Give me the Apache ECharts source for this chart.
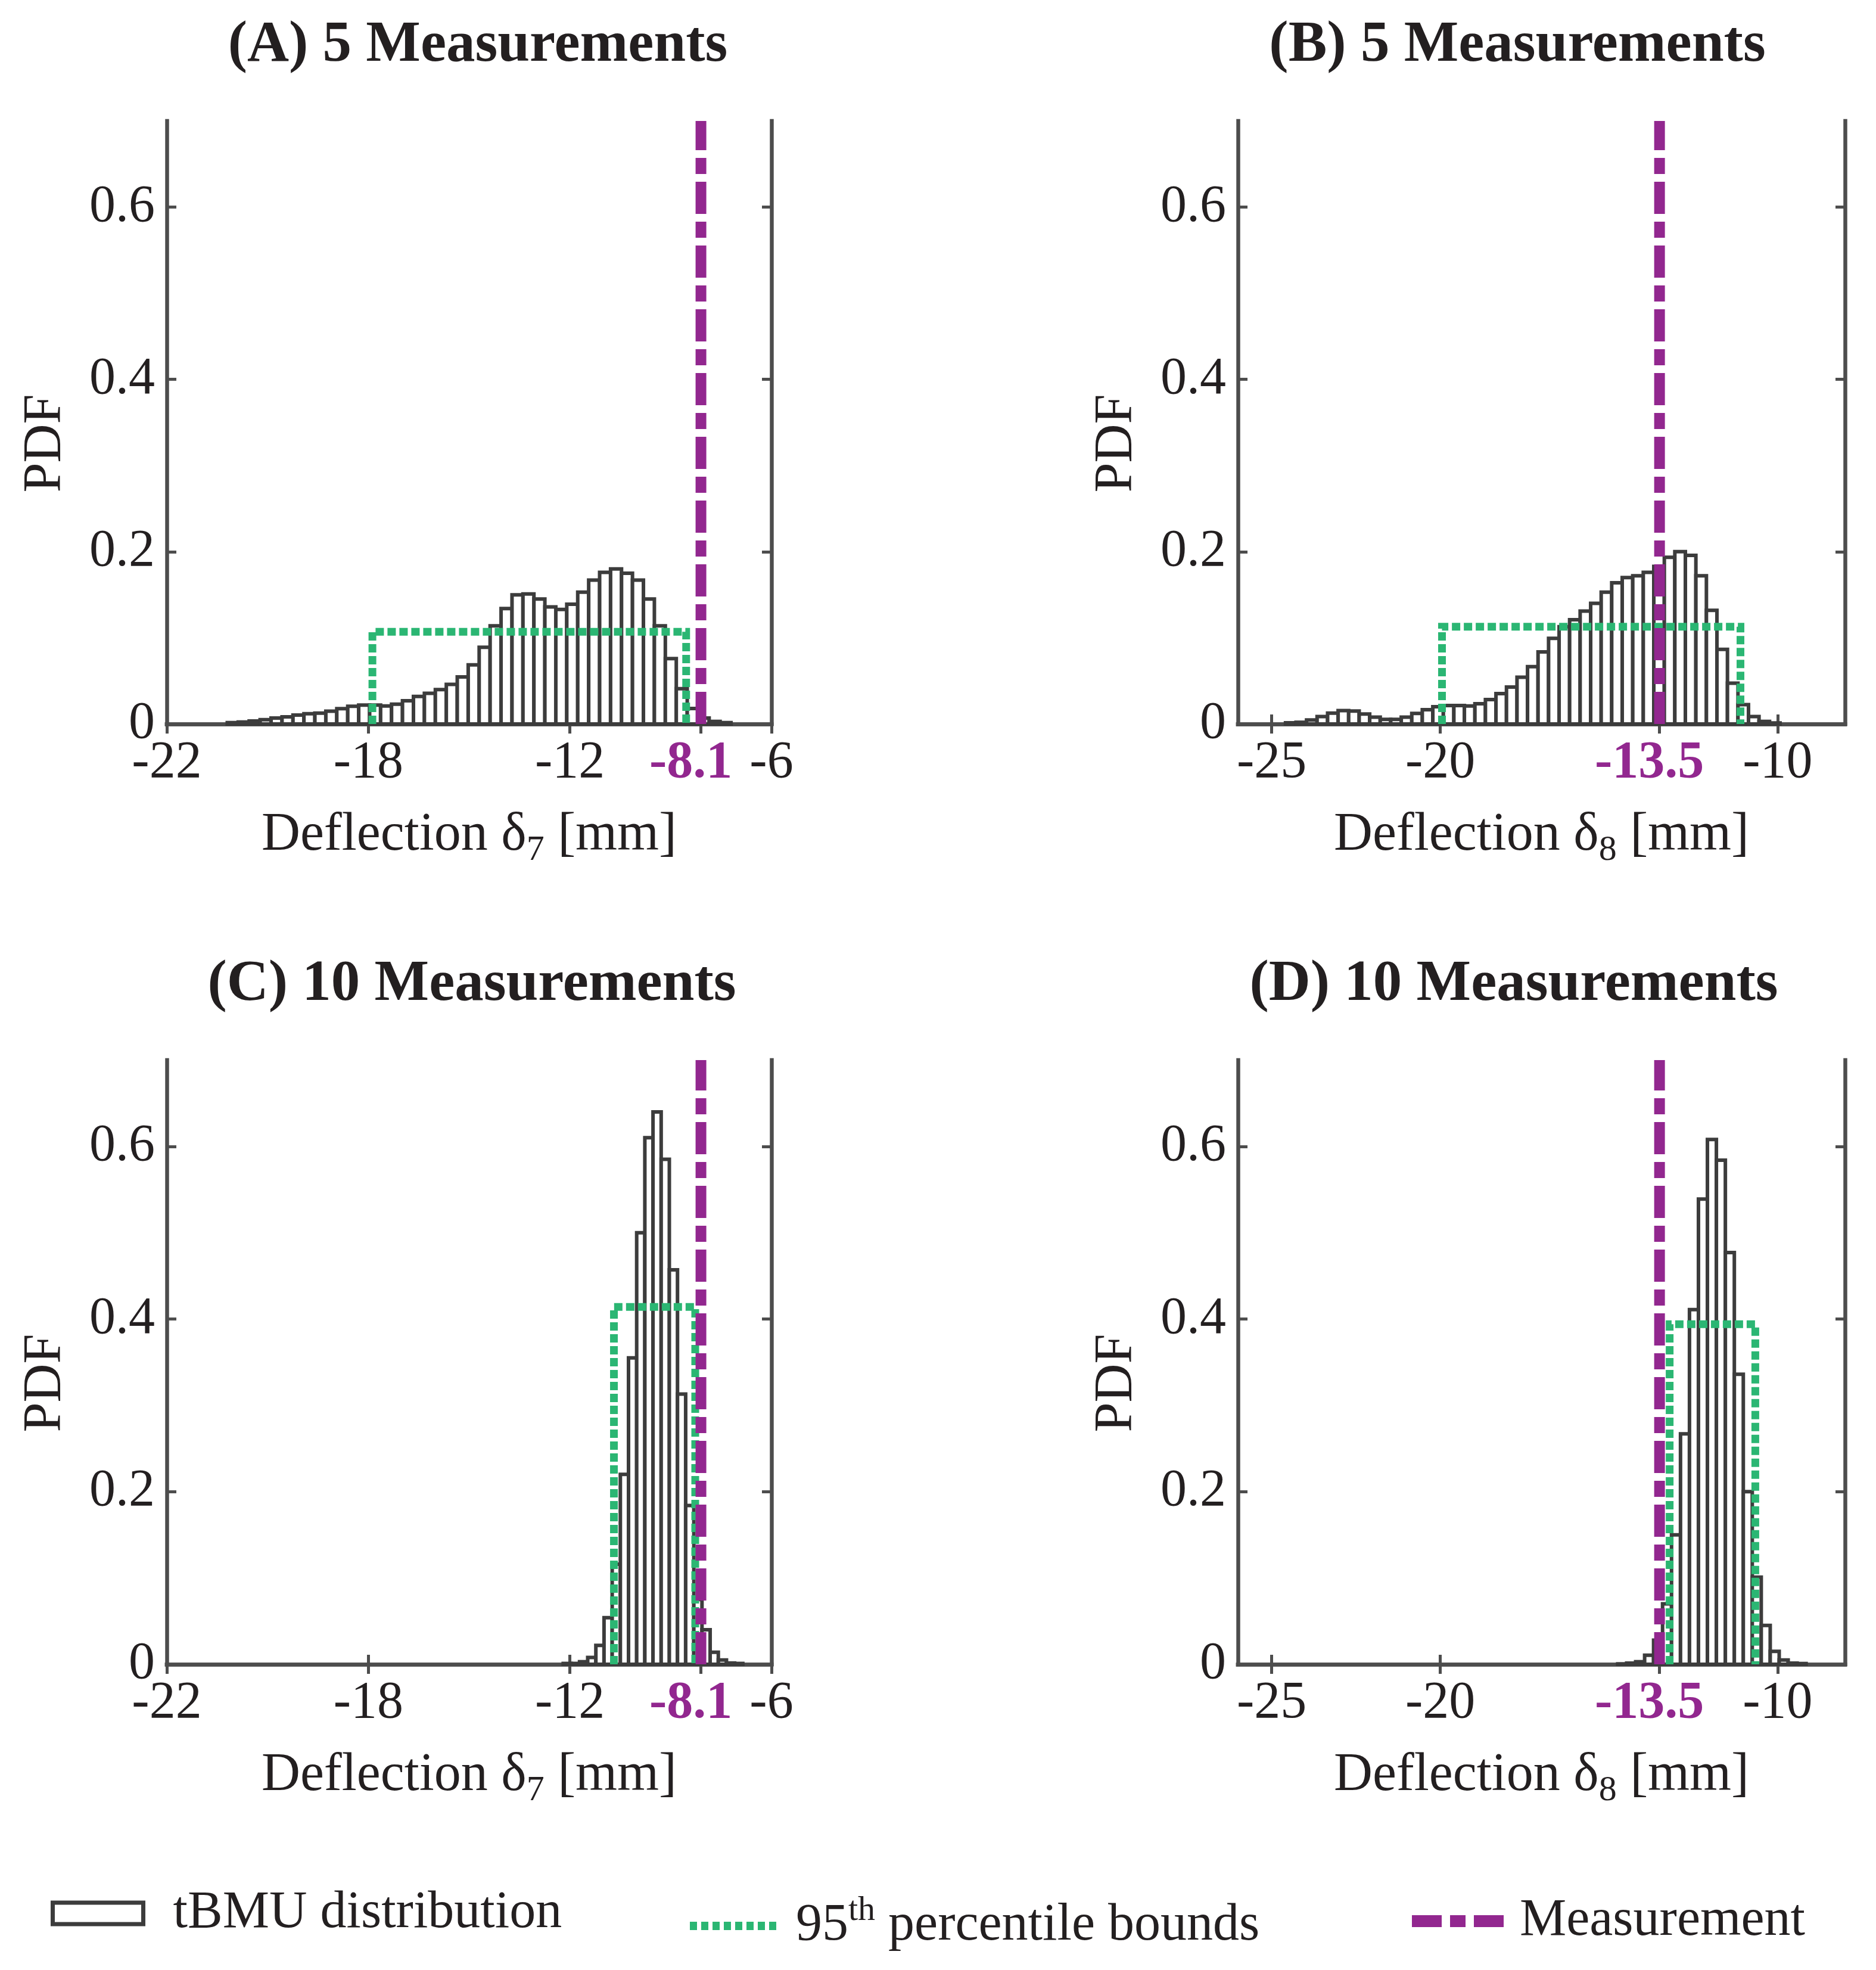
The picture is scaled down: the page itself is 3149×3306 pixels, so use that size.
<!DOCTYPE html>
<html><head><meta charset="utf-8">
<script src="https://cdn.jsdelivr.net/npm/echarts@6/dist/echarts.min.js"></script>
<style>html,body{margin:0;padding:0;background:#fff}#c{width:3149px;height:3306px}</style>
</head><body><div id="c"></div>
<script>
// ---------- data ----------
const binStartA = -22.2, binWidthA = 0.326;
const pdfA = [0.0016,0.0023,0.0035,0.005,0.007,0.0083,0.0104,0.012,0.0127,0.0148,0.0178,0.0206,0.022,0.022,0.021,0.023,0.027,0.032,0.0356,0.040,0.046,0.0547,0.0686,0.089,0.114,0.134,0.150,0.151,0.145,0.136,0.133,0.139,0.153,0.167,0.176,0.180,0.175,0.167,0.145,0.114,0.076,0.041,0.018,0.007,0.003,0.0016];
const binStartB = -24.59, binWidthB = 0.312;
const pdfB = [0.0014,0.002,0.0046,0.0086,0.0127,0.0155,0.015,0.0116,0.008,0.0053,0.0053,0.008,0.0122,0.0166,0.020,0.0215,0.0215,0.021,0.0236,0.0284,0.0353,0.0428,0.0543,0.0666,0.0837,0.0994,0.113,0.121,0.131,0.140,0.153,0.164,0.170,0.172,0.176,0.183,0.1935,0.200,0.1958,0.172,0.132,0.0867,0.0474,0.0224,0.0086,0.003,0.0012];
const binStartC = -12.2, binWidthC = 0.243;
const pdfC = [0.001,0.001,0.003,0.008,0.022,0.054,0.116,0.220,0.355,0.500,0.610,0.640,0.585,0.457,0.313,0.184,0.075,0.040,0.014,0.005,0.0015,0.001];
const binStartD = -14.74, binWidthD = 0.266;
const pdfD = [0.0005,0.0014,0.003,0.0106,0.028,0.070,0.150,0.267,0.411,0.539,0.608,0.584,0.477,0.336,0.200,0.101,0.045,0.015,0.005,0.0014,0.0009];
// 95th percentile bounds: [lower, upper, height]
const boundsA = [-17.88, -8.54, 0.107];
const boundsB = [-19.95, -11.1, 0.113];
const boundsC = [-10.69, -8.27, 0.414];
const boundsD = [-13.2, -10.66, 0.394];
// measurements
const measA = -8.1, measB = -13.5, measC = -8.1, measD = -13.5;
// axes
const xRangeA = [-24, -6], xRangeB = [-26, -8];
const xTickValsA = [-24, -18, -12, -8.1, -6];
const xTickTextA = ['-22', '-18', '-12', '-8.1', '-6'];
const xTickValsB = [-25, -20, -13.5, -10];
const xTickTextB = ['-25', '-20', '-13.5', '-10'];
const yRange = [0, 0.7];
const yTickVals = [0, 0.2, 0.4, 0.6];
const titles = ['(A) 5 Measurements', '(B) 5 Measurements', '(C) 10 Measurements', '(D) 10 Measurements'];
const subs = ['7', '8', '7', '8'];
const seriesNames = ['tBMU distribution', '95th percentile bounds', 'Measurement'];

// ---------- style ----------
const FONT = 'Liberation Serif';
const TXT = '#231f20';
const AX = '#4d4d4d';
const EDGE = '#3c3c3c';
const GREEN = '#2bb673';
const PURPLE = '#92278f';

const panels = [
  {pdf: pdfA, start: binStartA, w: binWidthA, bounds: boundsA, meas: measA, range: xRangeA, tv: xTickValsA, tt: xTickTextA,
   grid: {left: 280, top: 203, width: 1015, height: 1012}, titleX: 797, titleY: 13},
  {pdf: pdfB, start: binStartB, w: binWidthB, bounds: boundsB, meas: measB, range: xRangeB, tv: xTickValsB, tt: xTickTextB,
   grid: {left: 2078, top: 203, width: 1019, height: 1012}, titleX: 2542, titleY: 13},
  {pdf: pdfC, start: binStartC, w: binWidthC, bounds: boundsC, meas: measC, range: xRangeA, tv: xTickValsA, tt: xTickTextA,
   grid: {left: 280, top: 1779, width: 1015, height: 1014}, titleX: 787, titleY: 1589},
  {pdf: pdfD, start: binStartD, w: binWidthD, bounds: boundsD, meas: measD, range: xRangeB, tv: xTickValsB, tt: xTickTextB,
   grid: {left: 2078, top: 1779, width: 1019, height: 1014}, titleX: 2536, titleY: 1589}
];

const option = {animation: false, backgroundColor: '#fff', title: [], grid: [], xAxis: [], yAxis: [], series: [], legend: []};

const axisLineStyle = {show: true, lineStyle: {color: AX, width: 6.5, cap: 'square'}};
const tickStyle = {lineStyle: {color: AX, width: 5}};

panels.forEach((p, i) => {
  option.title.push({text: titles[i], left: p.titleX, top: p.titleY, textAlign: 'center',
    textStyle: {fontFamily: FONT, fontSize: 97, fontWeight: 'bold', color: TXT, lineHeight: 118}});
  option.grid.push(Object.assign({outerBoundsMode: 'none', containLabel: false}, p.grid));
  const isMeas = v => Math.abs(v - p.meas) < 1e-6;
  const fmt = v => {
    let k = 0, best = 1e9;
    p.tv.forEach((t, j) => { const d = Math.abs(t - v); if (d < best) { best = d; k = j; } });
    return isMeas(p.tv[k]) ? '{m|' + p.tt[k] + '}' : p.tt[k];
  };
  // bottom x
  option.xAxis.push({type: 'value', gridIndex: i, position: 'bottom', min: p.range[0], max: p.range[1],
    axisLine: axisLineStyle, splitLine: {show: false},
    axisTick: Object.assign({show: true, inside: true, length: 16, customValues: p.tv}, tickStyle),
    axisLabel: {show: true, customValues: p.tv, formatter: fmt, margin: 22, fontFamily: FONT, fontSize: 88, color: TXT,
      showMinLabel: true, showMaxLabel: true,
      rich: {m: {fontFamily: FONT, fontSize: 88, fontWeight: 'bold', color: PURPLE, padding: [0, 34, 0, 0]}}},
    name: 'Deflection δ{s|' + subs[i] + '} [mm]', nameLocation: 'middle', nameGap: 132,
    nameTextStyle: {fontFamily: FONT, fontSize: 90, color: TXT,
      rich: {s: {fontFamily: FONT, fontSize: 60, color: TXT, verticalAlign: 'bottom', padding: [50, 0, 0, 0]}}}
  });
  // top x (box)
  option.xAxis.push({type: 'value', gridIndex: i, position: 'top', min: p.range[0], max: p.range[1],
    axisLine: axisLineStyle, splitLine: {show: false},
    axisTick: Object.assign({show: true, inside: true, length: 16, customValues: p.tv}, tickStyle),
    axisLabel: {show: false}});
  // left y
  option.yAxis.push({type: 'value', gridIndex: i, position: 'left', min: yRange[0], max: yRange[1],
    axisLine: axisLineStyle, splitLine: {show: false},
    axisTick: Object.assign({show: true, inside: true, length: 16, customValues: yTickVals}, tickStyle),
    axisLabel: {show: true, customValues: yTickVals, formatter: v => String(Math.round(v * 10) / 10), margin: 20,
      fontFamily: FONT, fontSize: 88, color: TXT, showMinLabel: true},
    name: 'PDF', nameLocation: 'middle', nameRotate: 90, nameGap: 158,
    nameTextStyle: {fontFamily: FONT, fontSize: 90, color: TXT, padding: [0, 70, 0, 0]}});
  // right y (box)
  option.yAxis.push({type: 'value', gridIndex: i, position: 'right', min: yRange[0], max: yRange[1],
    axisLine: axisLineStyle, splitLine: {show: false},
    axisTick: Object.assign({show: true, inside: true, length: 16, customValues: yTickVals}, tickStyle),
    axisLabel: {show: false}});

  const xb = 2 * i, yl = 2 * i;
  const histData = p.pdf.map((v, j) => [p.start + j * p.w, p.start + (j + 1) * p.w, v]);
  option.series.push({
    type: 'custom', name: seriesNames[0], xAxisIndex: xb, yAxisIndex: yl, data: histData,
    encode: {x: [0, 1], y: 2}, itemStyle: {color: '#fff', borderColor: EDGE},
    renderItem: (params, api) => {
      const a = api.coord([api.value(0), api.value(2)]);
      const b = api.coord([api.value(1), 0]);
      return {type: 'rect', shape: {x: a[0], y: a[1], width: b[0] - a[0], height: b[1] - a[1]},
        style: {fill: '#fff', stroke: EDGE, lineWidth: 6}};
    }
  });
  const bd = p.bounds;
  option.series.push({
    type: 'line', name: seriesNames[1], xAxisIndex: xb, yAxisIndex: yl, symbol: 'none', color: GREEN,
    data: [[bd[0], 0], [bd[0], bd[2]], [bd[1], bd[2]], [bd[1], 0]],
    lineStyle: {color: GREEN, width: 13, type: [14, 6], cap: 'butt', join: 'miter'}
  });
  option.series.push({
    type: 'line', name: seriesNames[2], xAxisIndex: xb, yAxisIndex: yl, symbol: 'none', color: PURPLE,
    data: [[p.meas, yRange[0]], [p.meas, yRange[1]]],
    lineStyle: {color: PURPLE, width: 18, type: [54, 13, 27, 13], cap: 'butt'}
  });
});

// legends
const greenIcon = 'path://' + [0,1,2,3,4,5,6,7].map(k => 'M' + (k * 19) + ',0h12v14h-12z').join(' ');
const purpleIcon = 'path://M0,0h50v20h-50z M64,0h26v20h-26z M104,0h50v20h-50z';
const legTxt = {fontFamily: FONT, fontSize: 88, color: TXT};
option.legend.push({left: 85, top: 3167, padding: 0, selectedMode: false, itemWidth: 152, itemHeight: 36,
  data: [{name: seriesNames[0], icon: 'rect', itemStyle: {color: '#fff', borderColor: EDGE, borderWidth: 7}}],
  textStyle: Object.assign({padding: [0, 0, 0, 45]}, legTxt)});
option.legend.push({left: 1158, top: 3178, padding: 0, selectedMode: false, itemWidth: 145, itemHeight: 14,
  data: [{name: seriesNames[1], icon: greenIcon, itemStyle: {color: GREEN, borderWidth: 0}}],
  formatter: () => '95{sup|th} percentile bounds',
  textStyle: Object.assign({padding: [0, 0, 0, 28],
    rich: {sup: {fontFamily: FONT, fontSize: 58, color: TXT, verticalAlign: 'top', padding: [0, 0, 50, 0]}}}, legTxt)});
option.legend.push({left: 2370, top: 3180, padding: 0, selectedMode: false, itemWidth: 154, itemHeight: 20,
  data: [{name: seriesNames[2], icon: purpleIcon, itemStyle: {color: PURPLE, borderWidth: 0}}],
  textStyle: Object.assign({padding: [0, 0, 0, 22]}, legTxt)});

const chart = echarts.init(document.getElementById('c'), null, {renderer: 'canvas', width: 3149, height: 3306});
chart.setOption(option);
</script></body></html>
